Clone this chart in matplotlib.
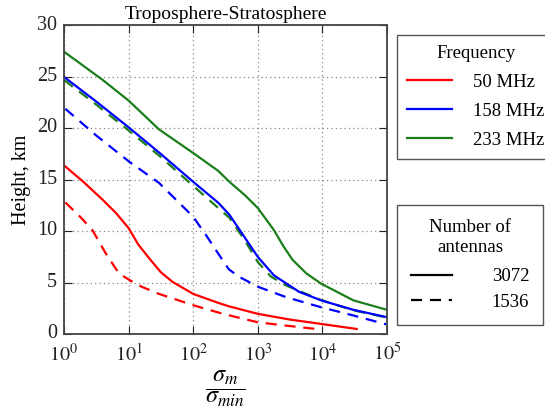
import matplotlib
matplotlib.use("Agg")
import matplotlib.pyplot as plt
from matplotlib.lines import Line2D
import matplotlib.transforms as mtransforms
import numpy as np

plt.rcParams['font.family'] = ['Liberation Serif', 'DejaVu Serif']
plt.rcParams['mathtext.fontset'] = 'stix'

# ---- data (x given as log10 exponents of sigma_m / sigma_min) ----
r_solid_exp = [0, 0.3, 0.59, 0.8, 1.0, 1.15, 1.32, 1.5, 1.68, 2.0, 2.4, 2.55, 3.0, 3.5, 3.98, 4.53]
r_solid_h   = [16.4, 14.8, 13.1, 11.8, 10.3, 8.7, 7.35, 6.0, 5.07, 3.9, 3.0, 2.7, 1.96, 1.4, 0.98, 0.49]
r_dash_exp  = [0.02, 0.25, 0.44, 0.65, 0.85, 1.0, 1.2, 1.47, 2.0, 2.46, 3.0, 3.43, 3.9]
r_dash_h    = [12.8, 11.4, 10.1, 7.8, 5.9, 5.3, 4.6, 3.9, 2.8, 1.96, 1.14, 0.82, 0.49]
b_solid_exp = [0, 0.5, 1.0, 1.5, 2.0, 2.39, 2.56, 2.7, 2.85, 3.0, 3.25, 3.64, 3.98, 4.48, 5.0]
b_solid_h   = [25.0, 22.6, 20.1, 17.5, 14.8, 12.75, 11.6, 10.3, 8.9, 7.5, 5.7, 4.1, 3.27, 2.35, 1.63]
b_dash_exp  = [0.02, 0.5, 1.0, 1.47, 2.0, 2.2, 2.4, 2.55, 2.7, 3.0, 3.43, 3.98, 4.48, 5.0]
b_dash_h    = [21.9, 19.3, 16.8, 14.7, 11.4, 9.6, 7.7, 6.3, 5.6, 4.6, 3.6, 2.6, 1.8, 0.92]
g_solid_exp = [0, 0.59, 1.0, 1.47, 2.0, 2.39, 2.56, 2.8, 3.0, 3.25, 3.4, 3.54, 3.75, 3.98, 4.48, 5.0]
g_solid_h   = [27.45, 24.75, 22.7, 19.9, 17.6, 15.85, 14.8, 13.5, 12.25, 10.1, 8.5, 7.2, 5.9, 4.9, 3.27, 2.35]
g_dash_exp  = [0, 0.5, 1.0, 1.5, 2.0, 2.56, 2.8, 3.0, 3.2, 3.43, 3.98, 4.48, 5.0]
g_dash_h    = [24.7, 22.3, 19.8, 17.2, 14.4, 11.3, 9.1, 7.0, 5.6, 4.74, 3.3, 2.3, 1.6]

freq_labels = ['50 MHz', '158 MHz', '233 MHz']
ant_labels = ['3072', '1536']
xticks_exp = [0, 1, 2, 3, 4, 5]
yticks = [0, 5, 10, 15, 20, 25, 30]

RED, BLUE, GREEN = '#ff0000', '#0000ff', '#1a7f1a'
DASH = (5, 3.5)

fig = plt.figure(figsize=(5.45, 4.19), dpi=100)
ax = fig.add_axes([64/545, 1-334/419, (387-64)/545, (334-25.5)/419])

def X(e):
    return 10.0 ** np.asarray(e)

lw = 1.6
ax.plot(X(g_dash_exp), g_dash_h, color=GREEN, lw=lw, dashes=DASH)
ax.plot(X(g_solid_exp), g_solid_h, color=GREEN, lw=lw)
ax.plot(X(b_dash_exp), b_dash_h, color=BLUE, lw=lw, dashes=DASH)
ax.plot(X(b_solid_exp), b_solid_h, color=BLUE, lw=lw)
ax.plot(X(r_dash_exp), r_dash_h, color=RED, lw=lw, dashes=DASH)
ax.plot(X(r_solid_exp), r_solid_h, color=RED, lw=lw)

ax.set_xscale('log')
ax.set_xlim(1, 1e5)
ax.set_ylim(0, 30)
ax.set_xticks(X(xticks_exp))
ax.set_xticklabels([r'$10^{%d}$' % e for e in xticks_exp])
ax.set_yticks(yticks)
ax.tick_params(which='both', direction='in', top=True, right=True,
               labelsize=14.5, colors='#222222')
ax.tick_params(which='major', length=6, width=0.8)
ax.tick_params(axis='x', which='major', pad=7)
ax.tick_params(axis='y', which='major', pad=5)
ax.tick_params(which='minor', length=3, width=0.7)
ax.grid(True, which='major', linestyle=(0, (1, 2.5)), color='#888888', lw=0.9)
for s in ax.spines.values():
    s.set_linewidth(1.3)
    s.set_color('#444444')

# y tick labels sit slightly above their ticks, as in the reference
up = mtransforms.ScaledTranslation(0, 3/100, fig.dpi_scale_trans)
for lab in ax.get_yticklabels():
    lab.set_transform(lab.get_transform() + up)

ax.set_title('Troposphere-Stratosphere', fontsize=14, pad=5)
ax.set_ylabel('Height, km', fontsize=14.5, labelpad=4)
ax.set_xlabel(r'$\dfrac{\sigma_m}{\sigma_{min}}$', fontsize=17.5, labelpad=2)

# legends
fs = 13.5
fh = [Line2D([], [], color=c, lw=lw) for c in (RED, BLUE, GREEN)]
leg1 = fig.legend(fh, freq_labels, title='Frequency', loc='upper left',
                  bbox_to_anchor=(397/545, 1-35/419), fontsize=fs,
                  title_fontsize=fs, fancybox=False, framealpha=1,
                  edgecolor='#555555', handlelength=2.4, handletextpad=1.1,
                  labelspacing=0.62, borderpad=0.55, borderaxespad=0)
leg1.get_frame().set_linewidth(1.0)

ah = [Line2D([], [], color='k', lw=lw), Line2D([], [], color='k', lw=lw, dashes=DASH)]
leg2 = fig.legend(ah, ant_labels, title='Number of\nantennas', loc='upper left',
                  bbox_to_anchor=(397/545, 1-205/419), fontsize=fs,
                  title_fontsize=fs, fancybox=False, framealpha=1,
                  edgecolor='#555555', handlelength=2.2, handletextpad=2.1,
                  labelspacing=0.45, borderpad=0.75, borderaxespad=0)
leg2.get_title().set_multialignment('center')
leg2.get_frame().set_linewidth(1.0)
leg2._legend_box.sep = 9

fig.savefig('out.png', dpi=100)
